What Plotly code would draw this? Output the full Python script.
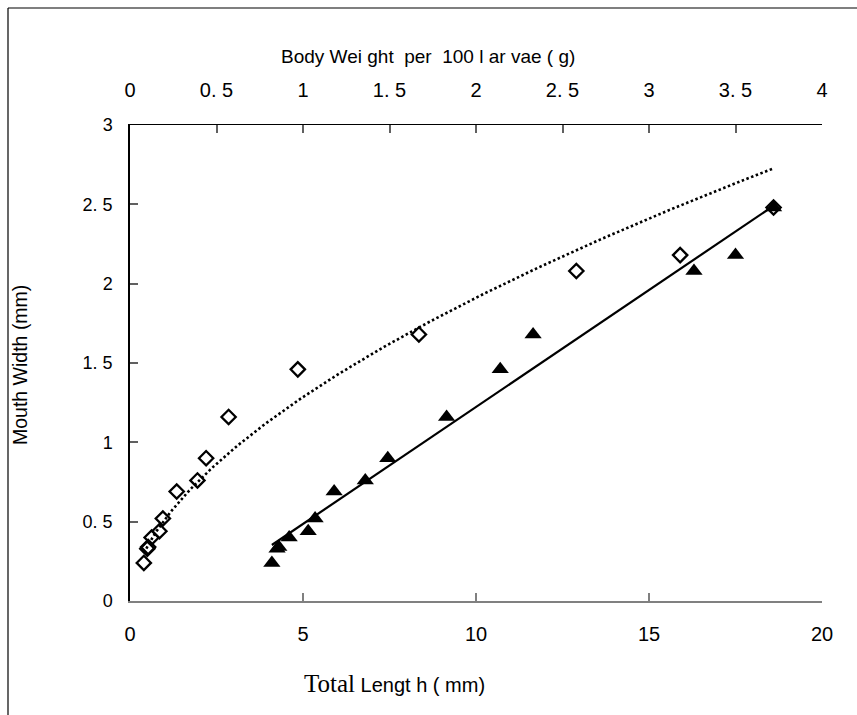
import numpy as np
import plotly.graph_objects as go

# ---- data ----
mouth_width = [0.24, 0.33, 0.34, 0.40, 0.44, 0.52, 0.69, 0.76, 0.90, 1.16, 1.46, 1.68, 2.08, 2.18, 2.48]
total_length = [4.10, 4.25, 4.30, 4.60, 5.15, 5.35, 5.90, 6.80, 7.45, 9.15, 10.70, 11.65, 16.30, 17.50, 18.60]
body_weight = [0.08, 0.10, 0.105, 0.125, 0.17, 0.19, 0.27, 0.39, 0.44, 0.57, 0.97, 1.67, 2.58, 3.18, 3.72]

x_bottom_ticks = [0, 5, 10, 15, 20]
x_bottom_labels = ["0", "5", "10", "15", "20"]
x_top_ticks = [0, 0.5, 1, 1.5, 2, 2.5, 3, 3.5, 4]
x_top_labels = ["0", "0. 5", "1", "1. 5", "2", "2. 5", "3", "3. 5", "4"]
y_ticks = [0, 0.5, 1, 1.5, 2, 2.5, 3]
y_labels = ["0", "0. 5", "1", "1. 5", "2", "2. 5", "3"]

# ---- trendlines (as in the spreadsheet: linear for length, power for weight) ----
tl = np.array(total_length); bw = np.array(body_weight); mw = np.array(mouth_width)
slope, icpt = np.polyfit(tl, mw, 1)
lin_x = np.array([tl.min(), tl.max()])
lin_y = slope * lin_x + icpt
b, lna = np.polyfit(np.log(bw), np.log(mw), 1)
pw_x = np.linspace(bw.min(), bw.max(), 200)
pw_y = np.exp(lna) * pw_x ** b

W, H = 857, 715
ML, MR, MT, MB = 130, 35, 125, 114
PW, PH = W - ML - MR, H - MT - MB

def px(xp):
    return (xp - ML) / PW

def py(yp):
    return (H - MB - yp) / PH

SANS = "Liberation Sans, Arial"
REG = "Liberation Sans, Arial"

fig = go.Figure()
fig.add_trace(go.Scatter(x=pw_x, y=pw_y, xaxis="x2", mode="lines",
                         line=dict(color="black", width=2.6, dash="2.5px,2.5px"),
                         hoverinfo="skip", showlegend=False))
fig.add_trace(go.Scatter(x=lin_x, y=lin_y, mode="lines",
                         line=dict(color="black", width=2.2),
                         hoverinfo="skip", showlegend=False))
fig.add_trace(go.Scatter(x=body_weight, y=mouth_width, xaxis="x2", mode="markers",
                         marker=dict(symbol="diamond-open", size=11, color="black",
                                     line=dict(width=2.3, color="black")),
                         showlegend=False))
fig.add_trace(go.Scatter(x=total_length, y=mouth_width, mode="markers",
                         marker=dict(symbol="triangle-up", size=15, color="black",
                                     line=dict(width=0)),
                         showlegend=False))

fig.update_layout(
    width=W, height=H,
    margin=dict(l=ML, r=MR, t=MT, b=MB),
    paper_bgcolor="white", plot_bgcolor="white",
    showlegend=False,
    xaxis=dict(range=[0, 20], tickvals=x_bottom_ticks, ticktext=x_bottom_labels,
               ticks="inside", ticklen=8, tickwidth=1.5, tickcolor="#808080",
               showline=True, linecolor="#808080", linewidth=2,
               showgrid=False, zeroline=False, ticklabelstandoff=14,
               tickfont=dict(family=SANS, size=20, color="black")),
    xaxis2=dict(range=[0, 4], overlaying="x", side="top",
                tickvals=x_top_ticks, ticktext=x_top_labels,
                ticks="inside", ticklen=8, tickwidth=1.5, tickcolor="#606060",
                showline=True, linecolor="black", linewidth=1.2,
                showgrid=False, zeroline=False, ticklabelstandoff=19,
                tickfont=dict(family=SANS, size=20, color="black")),
    yaxis=dict(range=[0, 3], tickvals=y_ticks, ticktext=y_labels,
               ticks="inside", ticklen=8, tickwidth=1.5, tickcolor="#606060",
               showline=True, linecolor="black", linewidth=1.5,
               showgrid=False, zeroline=False, ticklabelstandoff=12,
               tickfont=dict(family=REG, size=18, color="black")),
    annotations=[
        dict(text="Body Wei ght  per  100 l ar vae ( g)", xref="paper", yref="paper",
             x=0.5 * (px(287) + px(568)), y=py(56), showarrow=False,
             xanchor="center", yanchor="middle",
             font=dict(family=SANS, size=19, color="black")),
        dict(text="<span style='font-family:Liberation Serif, Times New Roman;font-size:25px'>Total</span> Lengt h ( mm)",
             xref="paper", yref="paper",
             x=0.5 * (px(303) + px(486)), y=py(683), showarrow=False,
             xanchor="center", yanchor="middle",
             font=dict(family=SANS, size=20, color="black")),
        dict(text="Mouth Width (mm)", xref="paper", yref="paper",
             x=px(20), y=py(365), showarrow=False, textangle=-90,
             xanchor="center", yanchor="middle",
             font=dict(family=REG, size=19.5, color="black")),
    ],
    shapes=[
        dict(type="line", xref="paper", yref="paper", x0=px(8), x1=px(W + 5),
             y0=py(8), y1=py(8), line=dict(color="black", width=1.2)),
        dict(type="line", xref="paper", yref="paper", x0=px(8), x1=px(8),
             y0=py(8), y1=py(H + 5), line=dict(color="black", width=1.2)),
    ],
)

fig.write_html("out.html")
